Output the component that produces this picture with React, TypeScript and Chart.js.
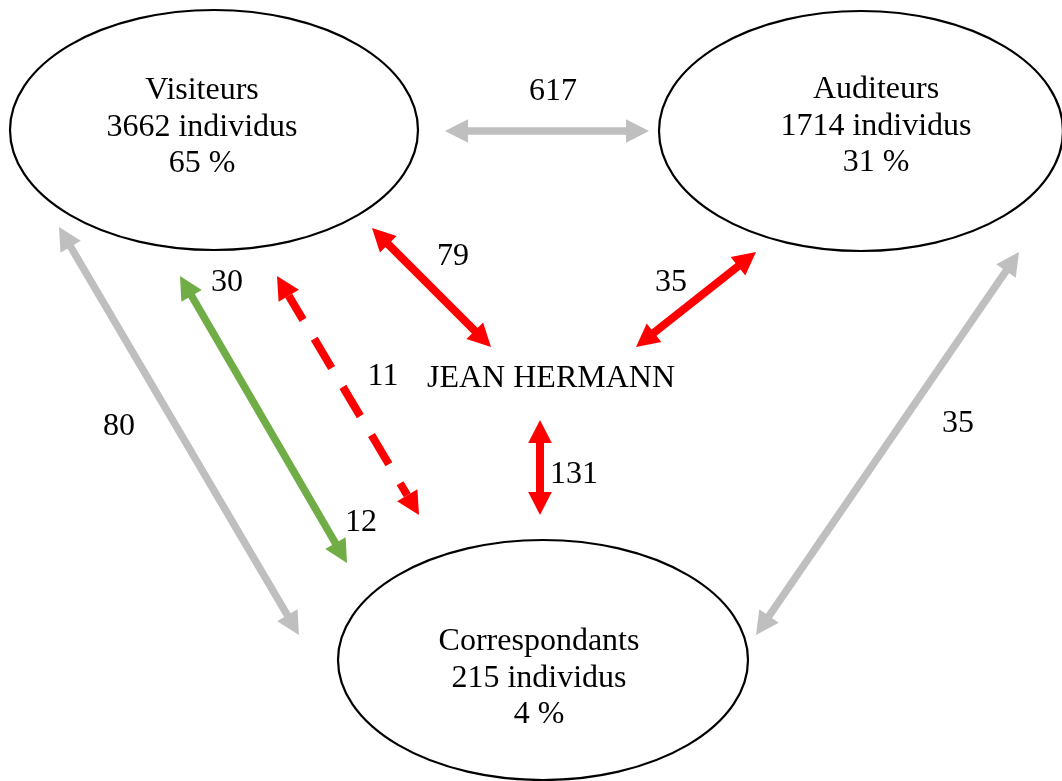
import React, { useEffect, useRef } from "react";
import { Chart, registerables } from "chart.js";

Chart.register(...registerables);

// ---- data ----
const NODE_NAMES = ["Visiteurs", "Auditeurs", "Correspondants"];
const NODE_COUNTS = [3662, 1714, 215];
const NODE_PCT = [65, 31, 4];
const CENTER_LABEL = "JEAN HERMANN";
const FLOW_VALUES = [617, 79, 35, 11, 131, 80, 35];
const GREEN_FLOW_VALUES = [30, 12];

// ---- layout (diagram units = pixels of the 1062x781 page) ----
const W = 1062;
const H = 781;
const NODE_CX = [214, 861, 543];
const NODE_CY = [130, 131, 660];
const NODE_RX = [204, 202, 205];
const NODE_RY = [120, 120, 120];
const NODE_TEXT_X = [202, 876, 539];
const NODE_TEXT_Y = [99, 98, 650];
const LINE_GAP = 36.7;
const CENTER_POS = { x: 551, y: 387 };

// arrows: [x1, y1, x2, y2]
const ARROW_617 = [445, 131, 649, 131];
const ARROW_79 = [372, 228, 491, 347];
const ARROW_35A = [756, 252, 636, 347];
const ARROW_11 = [277, 276, 419, 515];
const ARROW_GREEN = [180, 276, 347, 563];
const ARROW_131 = [540, 420, 540, 515];
const ARROW_80 = [59, 227, 299, 635];
const ARROW_35B = [1019, 252, 756, 635];

const FLOW_LABEL_POS = [
  [553, 100],
  [453, 265],
  [671, 291],
  [383, 385],
  [574, 483],
  [119, 435],
  [958, 432],
];
const GREEN_LABEL_POS = [
  [227, 291],
  [361, 531],
];

const RED = "#FF0000";
const GRAY = "#BFBFBF";
const GREEN = "#70AD47";
const FONT = '32px "Liberation Serif", "Times New Roman", serif';

function arrowDataset(a: number[], color: string, width: number, dashed = false) {
  return {
    kind: "arrow",
    data: [
      { x: a[0], y: a[1] },
      { x: a[2], y: a[3] },
    ],
    color,
    width,
    dashed,
    showLine: false,
    pointRadius: 0,
    pointHoverRadius: 0,
  };
}

const diagramPlugin = {
  id: "diagram",
  afterDatasetsDraw(chart: any) {
    const ctx: CanvasRenderingContext2D = chart.ctx;
    const xs = chart.scales.x;
    const ys = chart.scales.y;
    ctx.save();
    chart.data.datasets.forEach((ds: any, i: number) => {
      const pts = chart.getDatasetMeta(i).data;
      if (ds.kind === "node") {
        const cx = pts[0].x;
        const cy = pts[0].y;
        const rx = Math.abs(xs.getPixelForValue(ds.rx) - xs.getPixelForValue(0));
        const ry = Math.abs(ys.getPixelForValue(ds.ry) - ys.getPixelForValue(0));
        ctx.beginPath();
        ctx.ellipse(cx, cy, rx, ry, 0, 0, Math.PI * 2);
        ctx.lineWidth = 2.2;
        ctx.strokeStyle = "#000";
        ctx.setLineDash([]);
        ctx.stroke();
        ctx.fillStyle = "#000";
        ctx.font = FONT;
        ctx.textAlign = "center";
        ctx.textBaseline = "alphabetic";
        const tx = xs.getPixelForValue(ds.textX);
        ds.lines.forEach((line: string, k: number) => {
          const ty = ys.getPixelForValue(ds.textY + k * LINE_GAP);
          ctx.fillText(line, tx, ty);
        });
      } else if (ds.kind === "arrow") {
        const x1 = pts[0].x, y1 = pts[0].y, x2 = pts[1].x, y2 = pts[1].y;
        const len = Math.hypot(x2 - x1, y2 - y1);
        const ux = (x2 - x1) / len, uy = (y2 - y1) / len;
        const nx = -uy, ny = ux;
        const L = 23, HW = 11.8;
        ctx.strokeStyle = ds.color;
        ctx.fillStyle = ds.color;
        ctx.lineWidth = ds.width;
        ctx.lineCap = "butt";
        ctx.beginPath();
        if (ds.dashed) {
          ctx.setLineDash([34, 22]);
          ctx.lineDashOffset = 6;
          ctx.moveTo(x1 + ux * L, y1 + uy * L);
          ctx.lineTo(x2 - ux * L, y2 - uy * L);
        } else {
          ctx.setLineDash([]);
          ctx.moveTo(x1 + ux * (L - 2), y1 + uy * (L - 2));
          ctx.lineTo(x2 - ux * (L - 2), y2 - uy * (L - 2));
        }
        ctx.stroke();
        ctx.setLineDash([]);
        ctx.lineDashOffset = 0;
        const head = (tx: number, ty: number, dx: number, dy: number) => {
          const bx = tx + dx * L, by = ty + dy * L;
          ctx.beginPath();
          ctx.moveTo(tx, ty);
          ctx.lineTo(bx + nx * HW, by + ny * HW);
          ctx.lineTo(bx - nx * HW, by - ny * HW);
          ctx.closePath();
          ctx.fill();
        };
        head(x1, y1, ux, uy);
        head(x2, y2, -ux, -uy);
      } else if (ds.kind === "label") {
        ctx.fillStyle = "#000";
        ctx.font = FONT;
        ctx.textAlign = "center";
        ctx.textBaseline = "alphabetic";
        pts.forEach((p: any, k: number) => {
          ctx.fillText(ds.texts[k], p.x, p.y);
        });
      }
    });
    ctx.restore();
  },
};

export default function App() {
  const ref = useRef<HTMLCanvasElement | null>(null);

  useEffect(() => {
    document.body.style.margin = "0";
    const canvas = ref.current;
    if (!canvas) return;

    const nodeSets = NODE_NAMES.map((name, i) => ({
      kind: "node",
      data: [{ x: NODE_CX[i], y: NODE_CY[i] }],
      rx: NODE_RX[i],
      ry: NODE_RY[i],
      textX: NODE_TEXT_X[i],
      textY: NODE_TEXT_Y[i],
      lines: [name, `${NODE_COUNTS[i]} individus`, `${NODE_PCT[i]} %`],
      showLine: false,
      pointRadius: 0,
      pointHoverRadius: 0,
    }));

    const arrowSets = [
      arrowDataset(ARROW_617, GRAY, 7.5),
      arrowDataset(ARROW_79, RED, 8),
      arrowDataset(ARROW_35A, RED, 8),
      arrowDataset(ARROW_11, RED, 8, true),
      arrowDataset(ARROW_GREEN, GREEN, 7.5),
      arrowDataset(ARROW_131, RED, 8),
      arrowDataset(ARROW_80, GRAY, 7.5),
      arrowDataset(ARROW_35B, GRAY, 7.5),
    ];

    const labelSet = {
      kind: "label",
      data: [
        ...FLOW_LABEL_POS.map((p) => ({ x: p[0], y: p[1] })),
        ...GREEN_LABEL_POS.map((p) => ({ x: p[0], y: p[1] })),
        { x: CENTER_POS.x, y: CENTER_POS.y },
      ],
      texts: [
        ...FLOW_VALUES.map(String),
        ...GREEN_FLOW_VALUES.map(String),
        CENTER_LABEL,
      ],
      showLine: false,
      pointRadius: 0,
      pointHoverRadius: 0,
    };

    const chart = new Chart(canvas, {
      type: "scatter",
      data: { datasets: [...nodeSets, ...arrowSets, labelSet] as any },
      options: {
        animation: false,
        responsive: false,
        devicePixelRatio: 1,
        layout: { padding: 0 },
        events: [],
        scales: {
          x: { type: "linear", min: 0, max: W, display: false },
          y: { type: "linear", min: 0, max: H, reverse: true, display: false },
        },
        plugins: {
          legend: { display: false },
          tooltip: { enabled: false },
        },
      },
      plugins: [diagramPlugin],
    });

    return () => chart.destroy();
  }, []);

  return (
    <canvas
      ref={ref}
      width={W}
      height={H}
      style={{ display: "block", width: W, height: H, background: "#fff" }}
    />
  );
}
